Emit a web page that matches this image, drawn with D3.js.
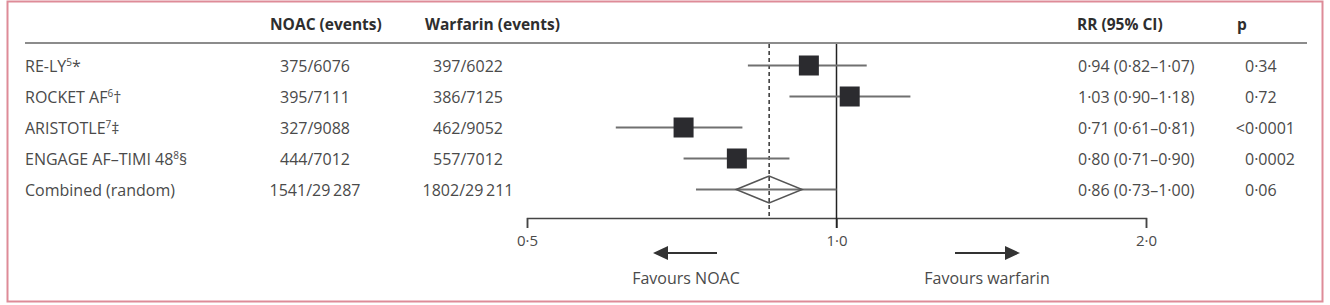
<!DOCTYPE html>
<html lang="en">

<head>
  <meta charset="UTF-8">
  <title>NOAC vs warfarin</title>
  <script src="https://cdn.jsdelivr.net/npm/d3@7"></script>
  <style>
    body {
      margin: 0;
      background: #fff;
    }

    svg {
      display: block;
      font-family: "Open Sans", sans-serif;
    }
  </style>
</head>

<body>
  <svg id="svg" width="1330" height="305"></svg>
  <script>
    // data
    var studyNames = ["RE-LY", "ROCKET AF", "ARISTOTLE", "ENGAGE AF\u2013TIMI 48", "Combined (random)"];
    var studyRefs = ["5", "6", "7", "8", ""];
    var studyMarks = ["*", "\u2020", "\u2021", "\u00a7", ""];
    var noacEvents = ["375/6076", "395/7111", "327/9088", "444/7012", "1541/29\u2009287"];
    var warfarinEvents = ["397/6022", "386/7125", "462/9052", "557/7012", "1802/29\u2009211"];
    var rr = [0.94, 1.03, 0.71, 0.80, 0.86];
    var rrLow = [0.82, 0.90, 0.61, 0.71, 0.73];
    var rrHigh = [1.07, 1.18, 0.81, 0.90, 1.00];
    var pValues = ["0\u00b734", "0\u00b772", "<0\u00b70001", "0\u00b70002", "0\u00b706"];
    var axisTicks = [0.5, 1, 2];
    var headers = ["NOAC (events)", "Warfarin (events)", "RR (95% CI)", "p"];

    var svg = d3.select("svg"),
      textColor = "#4a4a4a",
      headColor = "#2e2e2e";

    var rows = studyNames.map(function (name, i) {
      return {
        name: name, ref: studyRefs[i], mark: studyMarks[i],
        noac: noacEvents[i], warf: warfarinEvents[i],
        rr: rr[i], lo: rrLow[i], hi: rrHigh[i], p: pValues[i],
        pooled: i === studyNames.length - 1
      };
    });

    var x = d3.scaleLog().domain([0.5, 2]).range([527, 1146]);
    var y = d3.scalePoint().domain(d3.range(rows.length)).range([65.5, 189.5]);
    var dot = function (v) { return d3.format(".2f")(v).replace(".", "\u00b7"); };

    // frame
    svg.append("rect")
      .attr("x", 7.5).attr("y", 1.5)
      .attr("width", 1315).attr("height", 300)
      .attr("fill", "none")
      .attr("stroke", "#de8b98")
      .attr("stroke-width", 2);

    // header
    var head = svg.append("g")
      .attr("font-size", 15.5)
      .attr("font-weight", "bold")
      .attr("fill", headColor);
    [270, 425, 1077, 1237].forEach(function (hx, i) {
      head.append("text").attr("x", hx).attr("y", 30).text(headers[i]);
    });

    svg.append("line")
      .attr("x1", 25).attr("x2", 1307)
      .attr("y1", 43).attr("y2", 43)
      .attr("stroke", "#8c8c8c")
      .attr("stroke-width", 2);

    // table columns
    var row = svg.append("g")
      .attr("font-size", 16)
      .attr("fill", textColor)
      .selectAll("g")
      .data(rows)
      .enter().append("g")
      .attr("transform", function (d, i) { return "translate(0," + (y(i) + 6) + ")"; });

    var lab = row.append("text").attr("x", 25);
    lab.append("tspan").text(function (d) { return d.name; });
    lab.append("tspan")
      .attr("font-size", 10)
      .attr("dy", -6)
      .text(function (d) { return d.ref; });
    lab.append("tspan")
      .attr("dy", 6)
      .text(function (d) { return d.mark; });

    row.append("text")
      .attr("x", 315)
      .attr("text-anchor", "middle")
      .text(function (d) { return d.noac; });

    row.append("text")
      .attr("x", 468)
      .attr("text-anchor", "middle")
      .text(function (d) { return d.warf; });

    row.append("text")
      .attr("x", 1078)
      .text(function (d) { return dot(d.rr) + " (" + dot(d.lo) + "\u2013" + dot(d.hi) + ")"; });

    row.append("text")
      .attr("x", 1245)
      .text(function (d) { return d.p.replace("<", ""); });
    row.filter(function (d) { return d.p.charAt(0) === "<"; })
      .append("text")
      .attr("x", 1245)
      .attr("text-anchor", "end")
      .text("<");

    // reference lines
    var pooled = rows[rows.length - 1];
    svg.append("line")
      .attr("x1", x(pooled.rr)).attr("x2", x(pooled.rr))
      .attr("y1", 44).attr("y2", 218)
      .attr("stroke", "#333")
      .attr("stroke-width", 1.5)
      .attr("stroke-dasharray", "4,3");

    // axis
    var axis = svg.append("g")
      .attr("transform", "translate(0,218)")
      .call(d3.axisBottom(x)
        .tickValues(axisTicks)
        .tickSize(10)
        .tickSizeOuter(10)
        .tickPadding(7)
        .tickFormat(function (d) { return d3.format(".1f")(d).replace(".", "\u00b7"); }));
    axis.select(".domain").attr("stroke", "#444").attr("stroke-width", 1.5);
    axis.selectAll(".tick line").attr("stroke", "#444").attr("stroke-width", 1.5);
    axis.selectAll(".tick text")
      .attr("font-family", "Open Sans, sans-serif")
      .attr("font-size", 15)
      .attr("fill", textColor);

    svg.append("line")
      .attr("x1", x(1)).attr("x2", x(1))
      .attr("y1", 44).attr("y2", 228)
      .attr("stroke", "#222")
      .attr("stroke-width", 1.5);

    // confidence intervals
    var plot = svg.append("g");
    plot.selectAll("line.ci")
      .data(rows)
      .enter().append("line")
      .attr("class", "ci")
      .attr("x1", function (d) { return x(d.lo); })
      .attr("x2", function (d) { return x(d.hi); })
      .attr("y1", function (d, i) { return y(i); })
      .attr("y2", function (d, i) { return y(i); })
      .attr("stroke", "#707070")
      .attr("stroke-width", 2);

    var box = 20;
    plot.selectAll("rect")
      .data(rows.filter(function (d) { return !d.pooled; }))
      .enter().append("rect")
      .attr("x", function (d) { return x(d.rr) - box / 2; })
      .attr("y", function (d, i) { return y(i) - box / 2; })
      .attr("width", box)
      .attr("height", box)
      .attr("fill", "#2b2b2f");

    var dw = 33, dh = 13.5, cy = y(rows.length - 1), cx = x(pooled.rr);
    plot.append("path")
      .attr("d", "M" + (cx - dw) + "," + cy + "L" + cx + "," + (cy - dh) +
        "L" + (cx + dw) + "," + cy + "L" + cx + "," + (cy + dh) + "Z")
      .attr("fill", "none")
      .attr("stroke", "#555")
      .attr("stroke-width", 1.5);

    // favours arrows
    var fav = svg.append("g").attr("fill", textColor).attr("font-size", 16);
    function arrow(x0, x1) {
      var dir = x1 > x0 ? 1 : -1;
      fav.append("line")
        .attr("x1", x0).attr("x2", x1 - dir * 12)
        .attr("y1", 253).attr("y2", 253)
        .attr("stroke", "#333").attr("stroke-width", 2);
      fav.append("path")
        .attr("d", "M" + x1 + ",253L" + (x1 - dir * 15) + ",246L" + (x1 - dir * 15) + ",260Z")
        .attr("fill", "#333");
    }
    arrow(717, 653);
    arrow(955, 1020);
    fav.append("text").attr("x", 686).attr("y", 284).attr("text-anchor", "middle").text("Favours NOAC");
    fav.append("text").attr("x", 987).attr("y", 284).attr("text-anchor", "middle").text("Favours warfarin");
  </script>
</body>

</html>
